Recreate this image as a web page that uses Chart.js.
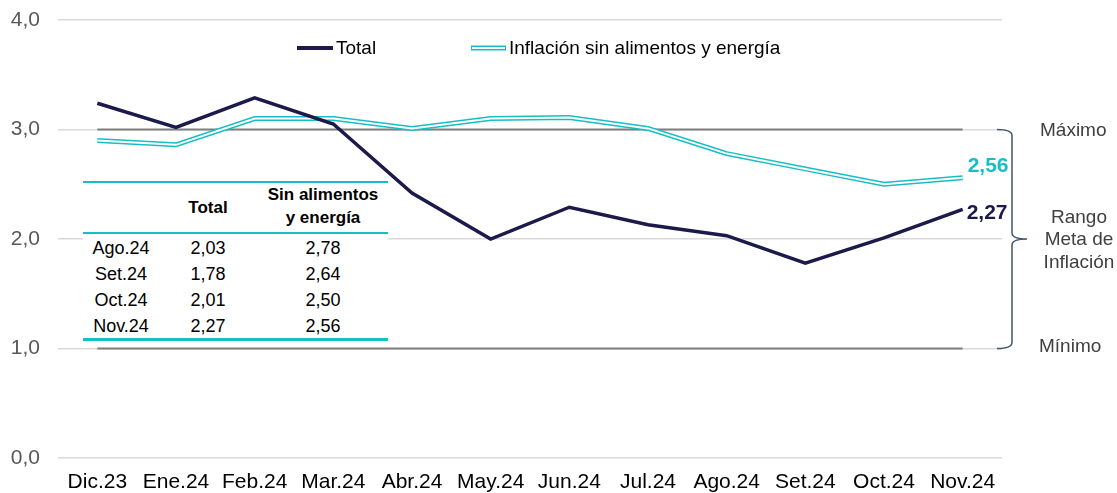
<!DOCTYPE html>
<html>
<head>
<meta charset="utf-8">
<script src="https://cdn.jsdelivr.net/npm/chart.js@4/dist/chart.umd.min.js"></script>
<style>
  body { margin: 0; background: #fff; }
  #wrap { position: relative; width: 1117px; height: 493px; font-family: "Liberation Sans", Arial, sans-serif; }
  #tbl { position: absolute; left: 83px; top: 181px; width: 305px; height: 160px; background: #fff; }
  #tbl .ln { position: absolute; left: 0; width: 305px; background: #17bec4; }
  #tbl .c { position: absolute; transform: translate(-50%, -50%); white-space: nowrap; color: #000; }
  #tbl .h { font-weight: bold; font-size: 17px; }
  #tbl .r { font-size: 18px; }
</style>
</head>
<body>
<div id="wrap">
  <canvas id="chart" width="1117" height="493"></canvas>
  <div id="tbl"></div>
</div>
<script>
// Inflación: total vs sin alimentos y energía
const months = ['Dic.23', 'Ene.24', 'Feb.24', 'Mar.24', 'Abr.24', 'May.24', 'Jun.24', 'Jul.24', 'Ago.24', 'Set.24', 'Oct.24', 'Nov.24'];
const total = [3.24, 3.02, 3.29, 3.05, 2.42, 2.00, 2.29, 2.13, 2.03, 1.78, 2.01, 2.27];
const core = [2.90, 2.86, 3.10, 3.10, 3.01, 3.10, 3.11, 3.01, 2.78, 2.64, 2.50, 2.56];
const rangeMax = [3, 3, 3, 3, 3, 3, 3, 3, 3, 3, 3, 3];
const rangeMin = [1, 1, 1, 1, 1, 1, 1, 1, 1, 1, 1, 1];
const yTicks = [0, 1, 2, 3, 4];

const NAVY = '#1b1a4b';
const CYAN = '#17bec4';
const FONT = '"Liberation Sans", Arial, sans-serif';

const fmt = v => v.toFixed(2).replace('.', ',');

// --- tabla últimos 4 meses ---
const tblMonths = months.slice(-4);
const tblTotal = total.slice(-4);
const tblCore = core.slice(-4);
const tbl = document.getElementById('tbl');
let html = '';
html += '<div class="ln" style="top:0;height:2px"></div>';
html += '<div class="c h" style="left:125px;top:27px">Total</div>';
html += '<div class="c h" style="left:240px;top:14px">Sin alimentos</div>';
html += '<div class="c h" style="left:240px;top:37px">y energía</div>';
html += '<div class="ln" style="top:51px;height:2px"></div>';
tblMonths.forEach((m, i) => {
    const y = 67 + i * 26;
    html += `<div class="c r" style="left:38px;top:${y}px">${m}</div>`;
    html += `<div class="c r" style="left:125px;top:${y}px">${fmt(tblTotal[i])}</div>`;
    html += `<div class="c r" style="left:240px;top:${y}px">${fmt(tblCore[i])}</div>`;
});
html += '<div class="ln" style="top:157px;height:3px"></div>';
tbl.innerHTML = html;

// --- extras: leyenda, etiquetas finales, llave del rango ---
const extras = {
    id: 'extras',
    afterDraw(chart) {
        const ctx = chart.ctx;
        const y = chart.scales.y;
        ctx.save();

        // legend
        ctx.textBaseline = 'middle';
        ctx.font = '19px ' + FONT;
        ctx.fillStyle = '#000';
        ctx.lineCap = 'butt';
        ctx.strokeStyle = NAVY; ctx.lineWidth = 4;
        ctx.beginPath(); ctx.moveTo(297, 48); ctx.lineTo(333, 48); ctx.stroke();
        ctx.fillText('Total', 336, 49);
        ctx.strokeStyle = CYAN; ctx.lineWidth = 5;
        ctx.beginPath(); ctx.moveTo(471, 48); ctx.lineTo(506, 48); ctx.stroke();
        ctx.strokeStyle = '#fff'; ctx.lineWidth = 2;
        ctx.beginPath(); ctx.moveTo(472, 48); ctx.lineTo(505, 48); ctx.stroke();
        ctx.fillText('Inflación sin alimentos y energía', 509, 49);

        // end labels
        ctx.font = 'bold 21px ' + FONT;
        const pT = chart.getDatasetMeta(0).data[total.length - 1];
        const pC = chart.getDatasetMeta(1).data[core.length - 1];
        ctx.fillStyle = CYAN;
        ctx.fillText(fmt(core[core.length - 1]), pC.x + 5, pC.y - 11);
        ctx.fillStyle = NAVY;
        ctx.fillText(fmt(total[total.length - 1]), pT.x + 4, pT.y + 4);

        // bracket
        const yTop = y.getPixelForValue(3), yBot = y.getPixelForValue(1);
        const yMid = (yTop + yBot) / 2;
        ctx.strokeStyle = '#44546a'; ctx.lineWidth = 1.5;
        ctx.beginPath();
        ctx.moveTo(997, yTop);
        ctx.quadraticCurveTo(1012, yTop, 1012, yTop + 6);
        ctx.lineTo(1012, yMid - 6);
        ctx.quadraticCurveTo(1012, yMid, 1027, yMid);
        ctx.quadraticCurveTo(1012, yMid, 1012, yMid + 6);
        ctx.lineTo(1012, yBot - 6);
        ctx.quadraticCurveTo(1012, yBot, 997, yBot);
        ctx.stroke();

        ctx.font = '19px ' + FONT;
        ctx.fillStyle = '#404040';
        ctx.textAlign = 'left';
        ctx.fillText('Máximo', 1040, yTop + 1);
        ctx.fillText('Mínimo', 1039, yBot - 2);
        ctx.textAlign = 'center';
        ctx.fillText('Rango', 1079, yMid - 21);
        ctx.fillText('Meta de', 1079, yMid + 1);
        ctx.fillText('Inflación', 1079, yMid + 24);
        ctx.restore();
    }
};

const line = (data, color, width, order) => ({
    data, borderColor: color, borderWidth: width, order,
    pointRadius: 0, tension: 0, fill: false, borderCapStyle: 'butt', borderJoinStyle: 'miter'
});

new Chart(document.getElementById('chart'), {
    type: 'line',
    data: {
        labels: months,
        datasets: [
            line(total, NAVY, 3.5, 0),
            line(core, CYAN, 5, 2),
            line(core, '#fff', 2, 1),
            line(rangeMax, '#7f7f7f', 2, 5),
            line(rangeMin, '#7f7f7f', 2, 5)
        ]
    },
    options: {
        responsive: false,
        animation: false,
        layout: { padding: { top: 20, right: 115, left: 0, bottom: 0 } },
        plugins: { legend: { display: false }, tooltip: { enabled: false } },
        scales: {
            x: {
                offset: true,
                grid: { display: false, drawTicks: false },
                border: { display: false },
                ticks: { color: '#000', font: { family: FONT, size: 21 }, padding: 12, maxRotation: 0, autoSkip: false },
                afterFit: s => { s.height = 35; s.paddingLeft = 0; s.paddingRight = 0; }
            },
            y: {
                min: 0, max: 4,
                afterBuildTicks: s => { s.ticks = yTicks.map(v => ({ value: v })); },
                grid: { color: '#d9d9d9', lineWidth: 1.5, drawTicks: false },
                border: { display: false },
                ticks: { color: '#595959', font: { family: FONT, size: 21 }, padding: 18,
                         callback: v => v.toFixed(1).replace('.', ',') },
                afterFit: s => { s.width = 58; s.paddingTop = 0; s.paddingBottom = 0; }
            }
        }
    },
    plugins: [extras]
});
</script>
</body>
</html>
